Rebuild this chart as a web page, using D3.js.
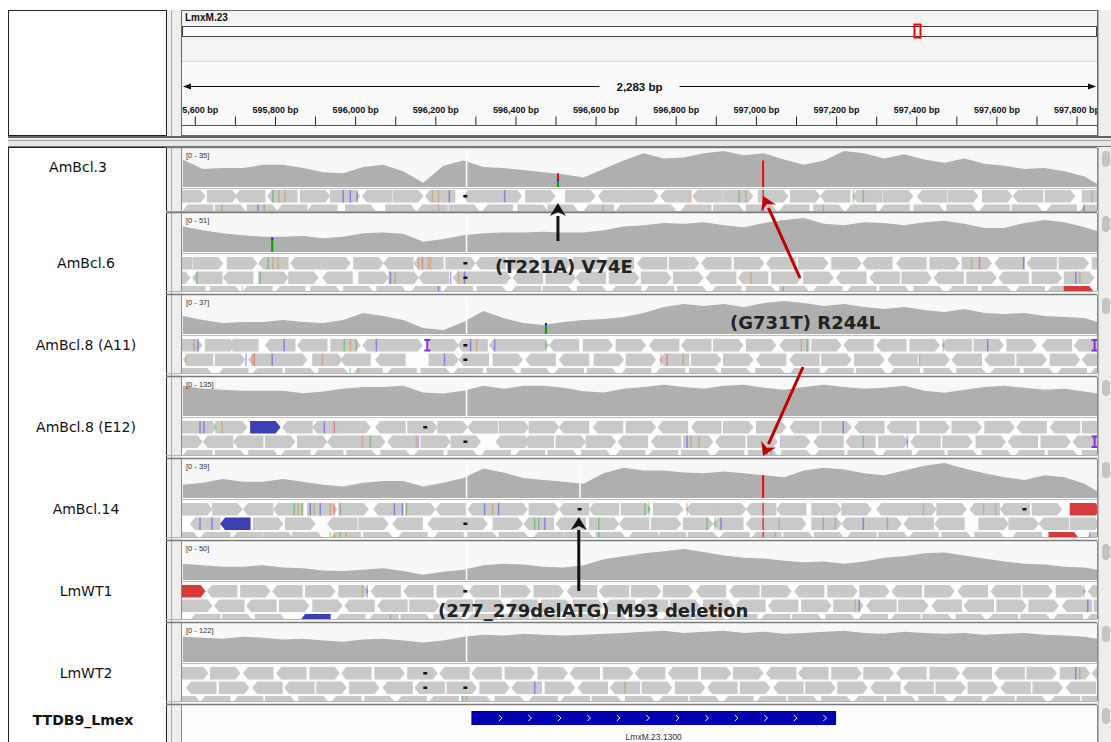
<!DOCTYPE html>
<html>
<head>
<meta charset="utf-8">
<script src="https://d3js.org/d3.v7.min.js"></script>
<style>
  body { margin: 0; background: #fff; }
</style>
</head>
<body>
<div id="igv"></div>
<script>
// ---------- data ----------
var chromName = "LmxM.23";
var chromLength = 741400;
var viewStart = 595568;
var viewEnd = 597851;
var rulerTicks = [595600, 595700, 595800, 595900, 596000, 596100, 596200, 596300, 596400, 596500, 596600,
  596700, 596800, 596900, 597000, 597100, 597200, 597300, 597400, 597500, 597600, 597700, 597800];
var labeledTicks = [595600, 595800, 596000, 596200, 596400, 596600, 596800, 597000, 597200, 597400, 597600, 597800];

var sampleNames = ["AmBcl.3", "AmBcl.6", "AmBcl.8 (A11)", "AmBcl.8 (E12)", "AmBcl.14", "LmWT1", "LmWT2"];
var dataRanges = [35, 51, 37, 135, 39, 50, 122];

// coverage sampled every 50 bp from 595,570, last value at the window end
var covPositions = d3.range(595570, 597850, 50).concat([597851]);
var covAmBcl3 = [26,17,18,18,21,21,18,14,13,19,21,15,4,20,25,19,18,16,14,12,9,17,25,32,27,28,32,34,30,32,26,21,25,34,32,27,31,26,23,27,22,20,17,18,15,10,3];
var covAmBcl6 = [35,30,26,23,21,21,22,19,21,26,27,25,14,18,23,26,27,27,28,27,27,30,35,37,40,39,41,37,34,40,44,47,39,37,41,40,37,41,43,39,33,33,40,44,41,34,29];
var covA11 = [18,14,11,12,12,14,12,11,14,21,18,14,6,4,12,23,16,11,9,12,14,15,17,21,27,30,28,30,27,31,33,31,28,30,27,25,27,24,22,25,21,20,21,18,17,16,12];
var covE12 = [110,99,96,92,92,92,83,89,99,106,106,110,86,82,92,110,99,110,110,103,90,86,99,106,114,106,99,110,114,103,96,106,114,106,99,103,110,92,85,96,106,110,103,96,99,89,82];
var covAmBcl14 = [14,16,20,17,17,20,17,14,12,16,18,18,12,16,21,31,27,21,19,17,15,26,32,29,29,27,26,28,26,24,22,29,32,30,26,24,29,34,37,31,26,22,19,24,22,15,7];
var covWT1 = [22,20,18,18,20,17,16,13,12,14,16,12,7,11,14,20,22,21,18,17,20,28,32,36,39,42,38,33,30,29,26,24,25,22,25,30,32,36,37,33,29,25,22,21,18,17,14];
var covWT2 = [83,80,77,83,80,74,77,71,67,74,77,71,64,71,83,90,87,93,90,87,90,93,96,100,103,96,100,103,96,100,93,96,100,103,96,93,100,96,93,96,90,93,96,90,87,83,77];
var coverage = [covAmBcl3, covAmBcl6, covA11, covE12, covAmBcl14, covWT1, covWT2];

// white zero-coverage columns [track, position]
var coverageGaps = [[0,596278],[1,596278],[2,596278],[3,596278],[4,596278],[4,596561],[5,596278],[6,596278]];
// allele-coloured coverage columns [track, position, [[base, depth] bottom to top]]
var alleleBars = [
  [0, 596506, [["A", 6], ["C", 2], ["T", 5]]],
  [0, 597018, [["T", 25]]],
  [1, 595793, [["A", 17], ["C", 3]]],
  [2, 596476, [["A", 9], ["C", 2]]],
  [4, 597018, [["T", 24]]]
];

// read starts, bp offset from the window start; rows top to bottom
var readLength = 76;
var readsAmBcl3 = [
  [-17,62,132,212,294,369,449,526,606,701,773,856,956,1038,1113,1193,1273,1350,1437,1517,1592,1672,1749,1834,1911,1996,2073,2153,2245],
  [2,82,162,237,312,407,507,587,665,750,837,912,1002,1082,1157,1245,1325,1407,1490,1575,1657,1740,1825,1907,1990,2070,2157,2240]
];
var readsAmBcl6 = [
  [-50,27,112,190,270,345,427,502,577,657,732,812,895,975,1052,1135,1215,1295,1377,1457,1537,1620,1697,1782,1865,1945,2027,2107,2187,2270],
  [-55,25,102,190,265,350,440,515,590,675,745,825,907,982,1065,1145,1225,1307,1387,1470,1550,1632,1715,1795,1875,1957,2037,2120,2200],
  [-17,70,150,232,320,402,485,570,650,735,820,900,985,1070,1152,1235,1320,1407,1490,1572,1657,1740,1825,1910,1995,2077,2157]
];
var readsA11 = [
  [-25,57,115,207,287,370,450,525,615,687,765,840,915,1000,1082,1165,1245,1325,1407,1490,1570,1650,1732,1815,1895,1975,2057,2145,2225],
  [2,82,165,237,325,395,482,615,690,775,857,940,1027,1107,1190,1270,1350,1432,1515,1595,1677,1760,1840,1920,2002,2082,2165,2245],
  [0,90,175,257,340,425,510,595,675,760,845,927,1010,1095,1180,1265,1345,1430,1515,1600,1682,1765,1850,1932,2015,2100,2182,2265]
];
var readsE12 = [
  [-62,12,87,250,325,395,482,562,637,712,790,865,940,1025,1107,1187,1270,1350,1432,1515,1595,1677,1757,1840,1920,2002,2082,2165,2245],
  [-25,52,127,207,287,362,432,512,595,670,782,852,932,1007,1087,1170,1250,1330,1410,1492,1575,1655,1737,1817,1897,1980,2060,2142,2222],
  [0,82,165,245,327,410,495,577,662,745,830,912,995,1080,1162,1245,1327,1412,1495,1577,1660,1745,1827,1910,1995,2077,2160,2245]
];
var readsAmBcl14 = [
  [0,75,152,227,312,390,477,557,632,712,787,865,940,1015,1095,1175,1257,1332,1407,1482,1570,1645,1732,1807,1882,1965,2040,2120,2277],
  [20,177,257,362,440,525,612,687,775,852,932,1015,1090,1170,1250,1325,1407,1482,1570,1645,1720,1800,1877,1987,2062,2137,2215],
  [-35,45,125,202,275,370,452,537,627,712,790,875,952,1032,1112,1182,1262,1340,1420,1500,1577,1657,1737,1812,1895,1977,2070,2257]
];
var readsWT1 = [
  [62,145,225,307,390,470,552,635,715,795,877,960,1040,1120,1200,1282,1365,1445,1527,1610,1690,1770,1852,1935,2017,2097,2180,2260],
  [0,80,160,242,325,405,487,567,650,730,812,895,975,1055,1137,1217,1300,1380,1462,1545,1625,1707,1787,1870,1950,2032,2112,2195,2275],
  [20,100,182,382,465,545,627,710,790,872,952,1035,1115,1197,1280,1360,1442,1522,1605,1685,1767,1847,1930,2010,2092,2172,2255]
];
var readsWT2 = [
  [-10,70,152,235,318,397,480,562,642,722,805,887,967,1050,1130,1212,1295,1375,1457,1537,1620,1700,1782,1865,1945,2027,2107,2190,2270],
  [10,92,175,255,335,417,500,580,660,742,822,905,987,1067,1147,1230,1310,1392,1475,1555,1635,1717,1800,1880,1960,2042,2122,2205],
  [-30,45,127,207,290,372,455,535,615,697,780,862,942,1022,1105,1187,1267,1350,1432,1512,1595,1675,1757,1837,1920,2002,2082,2165,2245]
];
var reads = [readsAmBcl3, readsAmBcl6, readsA11, readsE12, readsAmBcl14, readsWT1, readsWT2];
var strands = [
  [">><<>><><<>>><><<>>><<><>><>>", "<>><<>><><>><<><>><><<>><><<>"],
  ["<>><<>><<><>>><<><><>><<>><<>", "><<>><>><<><><>>><<>><<><><>>", "<><<>>><<><>><<><>><<>><><<>"],
  [">><<<><>><<><>><<>><><<><>><<", "<><>><<><><<>><>><<>><><<>><>", "><<>><<><>><><<>>><<><>><><<>"],
  ["<>><<><>><>><<><<>><><<>>><<>", "><<>><><>><<>><<><>><<><>><><", "<>><<>><><<>><<><>><><<>><>><"],
  [">><<>><><<>><<>><><<>><>><<>>", "<>><><<>><<><>><<>><><<>><><<", "><<>><><<>><>><<><<>><><>><<>"],
  ["<><>><<><>><<>><<><>><><<>><>", "><<>><<><><>><<>><<>><><<>><>", "<>><<>><<><>><><<>><<>><><<>>"],
  [">><<><>><<>><><<>><<>><><<>><", "<><<>><<>><><<>><><>><<>><><>", "><<>><><<>><<>><><<>><>><<><>"]
];
// coloured (discordant pair) reads [track, row, offset, strand, colour]
var colouredReads = [
  [1, 2, 2200, ">", "red"], [3, 0, 170, ">", "blue"], [4, 0, 2215, ">", "red"],
  [4, 1, 95, "<", "blue"], [4, 2, 2162, ">", "red"], [5, 0, -17, ">", "red"], [5, 2, 295, "<", "blue"]
];
// mismatches in reads [track, row, offset, base]
var mismatches = [
  [0,0,227,"A"],[0,0,242,"G"],[0,0,257,"G"],[0,0,402,"C"],[0,0,420,"C"],[0,0,437,"C"],[0,0,625,"G"],[0,0,640,"G"],
  [0,0,667,"C"],[0,0,805,"C"],[0,0,1270,"G"],[0,0,1390,"A"],[0,0,1407,"G"],[0,0,1450,"T"],[0,0,1675,"A"],[0,0,1700,"A"],
  [0,0,2270,"G"],[0,1,100,"G"],[0,1,190,"C"],[0,1,205,"A"],[0,1,640,"G"],[0,1,1050,"G"],[0,1,1450,"T"],[0,1,1600,"G"],[0,1,2250,"C"],
  [1,0,215,"A"],[1,0,227,"G"],[1,0,240,"G"],[1,0,590,"G"],[1,0,600,"T"],[1,0,615,"G"],[1,0,620,"G"],[1,0,1970,"G"],
  [1,0,1990,"T"],[1,0,2100,"C"],[1,1,37,"A"],[1,1,195,"A"],[1,1,520,"C"],[1,1,532,"G"],[1,1,670,"C"],[1,1,690,"G"],
  [1,1,705,"C"],[1,1,1420,"G"],[1,1,2230,"C"],[1,1,2240,"G"],[1,2,150,"G"],[1,2,640,"C"],[1,2,1500,"A"],
  [2,0,30,"G"],[2,0,40,"C"],[2,0,255,"C"],[2,0,405,"A"],[2,0,420,"G"],[2,0,435,"A"],[2,0,485,"C"],[2,0,720,"C"],
  [2,0,735,"G"],[2,0,780,"C"],[2,0,908,"A"],[2,0,1545,"G"],[2,0,1560,"A"],[2,0,1900,"A"],[2,0,2010,"C"],
  [2,1,10,"G"],[2,1,160,"C"],[2,1,175,"G"],[2,1,180,"T"],[2,1,225,"C"],[2,1,350,"G"],[2,1,655,"C"],[2,1,1195,"G"],
  [2,1,1210,"T"],[2,1,1250,"G"],[2,1,1840,"A"],[2,2,420,"A"],[2,2,440,"G"],
  [3,0,45,"C"],[3,0,55,"C"],[3,0,85,"A"],[3,0,100,"G"],[3,0,355,"C"],[3,0,380,"T"],[3,0,1650,"C"],[3,1,450,"G"],
  [3,1,470,"A"],[3,1,585,"G"],[3,1,590,"C"],[3,1,1260,"C"],[3,1,1270,"G"],[3,1,1290,"G"],[3,1,1700,"A"],[3,1,1810,"C"],
  [3,2,1460,"C"],[3,2,1470,"A"],
  [4,0,280,"A"],[4,0,290,"G"],[4,0,300,"A"],[4,0,320,"C"],[4,0,330,"G"],[4,0,345,"C"],[4,0,370,"G"],[4,0,380,"T"],
  [4,0,395,"A"],[4,0,530,"C"],[4,0,550,"C"],[4,0,560,"A"],[4,0,755,"C"],[4,0,775,"G"],[4,0,790,"C"],[4,0,1155,"A"],
  [4,0,1165,"A"],[4,0,1260,"G"],[4,0,1450,"T"],[4,0,1850,"G"],[4,0,2000,"G"],[4,0,2030,"G"],[4,1,45,"C"],[4,1,75,"C"],
  [4,1,880,"A"],[4,1,890,"A"],[4,1,905,"C"],[4,1,1040,"A"],[4,1,1310,"A"],[4,1,1330,"A"],[4,1,1345,"C"],[4,1,1450,"T"],
  [4,1,1490,"G"],[4,1,1600,"A"],[4,1,1630,"G"],[4,1,1700,"C"],[4,1,1760,"A"],[4,2,370,"A"],[4,2,380,"G"],[4,2,395,"A"],
  [4,2,410,"G"],[4,2,1040,"A"],[4,2,1450,"T"],[4,2,1480,"G"],[4,2,2265,"C"],
  [5,0,450,"G"],[5,0,462,"C"],[5,0,2250,"G"],[5,1,1680,"G"],[5,1,1690,"C"],[5,1,2260,"C"],[5,2,520,"A"],[5,2,1330,"G"],
  [6,0,2230,"C"],[6,0,2240,"G"],[6,1,880,"C"],[6,1,1105,"G"],[6,2,700,"A"],[6,2,710,"G"]
];
// deletions [track, row, offset] and insertions [track, row, offset]
var deletions = [[0,0,707],[1,0,707],[1,1,707],[2,0,707],[2,1,707],[3,0,607],[3,1,707],[4,0,992],[4,1,707],
  [4,1,992],[4,0,2102],[5,0,707],[6,0,607],[6,1,607],[6,1,707]];
var insertions = [[2,0,612],[2,0,2277],[3,1,2277]];

// gene track
var featureTrack = "TTDB9_Lmex";
var geneName = "LmxM.23.1300";
var geneStart = 596290;
var geneEnd = 597200;

// annotations
var noteTexts = ["(T221A) V74E", "(G731T) R244L", "(277_279delATG) M93 deletion"];
var notePositions = [596506, 597018, 596558];

// ---------- drawing ----------
var width = 1111;
var height = 742;
var left = 182;
var right = 1097;
var baseColor = { A: "#00a000", C: "#0000ff", G: "#d17105", T: "#ff0000" };
var readColor = { red: "#d43b3b", blue: "#3f3fb5" };

var svg = d3.select("#igv").append("svg")
  .attr("width", width)
  .attr("height", height)
  .style("display", "block");

var x = d3.scaleLinear().domain([viewStart, viewEnd]).range([left, right]);
var chromX = d3.scaleLinear().domain([0, chromLength]).range([left, right]);

function panelTop(i) {
  return i === 0 ? 148 : 213 + (i - 1) * 82;
}
function panelBottom(i) {
  return i === 0 ? 211 : panelTop(i) + 78;
}
function rowY(i, r) {
  return panelTop(i) + (i === 0 ? 42 : 44) + r * 14.5;
}

var defs = svg.append("defs");

// frame columns
svg.append("rect").attr("x", 166).attr("y", 10).attr("width", 16).attr("height", 732).attr("fill", "#eeeeee");
svg.append("rect").attr("x", 1097).attr("y", 10).attr("width", 14).attr("height", 732).attr("fill", "#eeeeee");
svg.append("line").attr("x1", 171.5).attr("x2", 171.5).attr("y1", 10).attr("y2", 742).attr("stroke", "#a8a8a8");
svg.append("line").attr("x1", 1098.5).attr("x2", 1098.5).attr("y1", 10).attr("y2", 742).attr("stroke", "#b0b0b0");

// name panels
svg.append("rect").attr("x", 8.5).attr("y", 10.5).attr("width", 158).attr("height", 125)
  .attr("fill", "#fff").attr("stroke", "#222");
svg.append("rect").attr("x", 8.5).attr("y", 147.5).attr("width", 158).attr("height", 600)
  .attr("fill", "#fff").attr("stroke", "#222");

// ---- header / ruler ----
var header = svg.append("g");
header.append("rect").attr("x", 181.5).attr("y", 10.5).attr("width", 916).attr("height", 125)
  .attr("fill", "#f4f4f4").attr("stroke", "#666");
header.append("rect").attr("x", 182).attr("y", 61).attr("width", 915).attr("height", 64).attr("fill", "#fafafa");
header.append("line").attr("x1", 182).attr("x2", 1097).attr("y1", 61.5).attr("y2", 61.5).attr("stroke", "#dadada");
header.append("text").attr("x", 185).attr("y", 21).attr("font-family", "Liberation Sans, Arial, sans-serif")
  .attr("font-size", 10).attr("font-weight", "bold").attr("fill", "#111").text(chromName);
header.append("rect").attr("x", 182.5).attr("y", 26.5).attr("width", 914).attr("height", 10)
  .attr("fill", "#fff").attr("stroke", "#444");
var viewMid = chromX((viewStart + viewEnd) / 2);
header.append("rect").attr("x", Math.round(viewMid) - 3.5).attr("y", 24.5).attr("width", 6).attr("height", 13)
  .attr("fill", "none").attr("stroke", "#ff0000").attr("stroke-width", 2);

// span arrow
var spanLabel = d3.format(",")(viewEnd - viewStart) + " bp";
header.append("line").attr("x1", left + 2).attr("x2", right - 2).attr("y1", 86.5).attr("y2", 86.5)
  .attr("stroke", "#111");
header.append("path").attr("d", "M" + (left + 1) + ",86.5l8,-3v6z").attr("fill", "#111");
header.append("path").attr("d", "M" + (right - 1) + ",86.5l-8,-3v6z").attr("fill", "#111");
header.append("rect").attr("x", (left + right) / 2 - 40).attr("y", 79).attr("width", 80).attr("height", 15)
  .attr("fill", "#fafafa");
header.append("text").attr("x", (left + right) / 2).attr("y", 90.5).attr("text-anchor", "middle")
  .attr("font-family", "Liberation Sans, Arial, sans-serif").attr("font-size", 11.5)
  .attr("font-weight", "bold").attr("fill", "#111").text(spanLabel);

// clip rect is in the ruler group's own (translated) coordinates
defs.append("clipPath").attr("id", "clipHeader").append("rect")
  .attr("x", left).attr("y", -60).attr("width", right - left).attr("height", 62);
var ruler = d3.axisTop(x)
  .tickValues(rulerTicks)
  .tickSize(9)
  .tickSizeOuter(0)
  .tickPadding(4)
  .tickFormat(function(d) {
    return labeledTicks.indexOf(d) >= 0 ? d3.format(",")(d) + " bp" : "";
  });
var rulerG = header.append("g")
  .attr("transform", "translate(0,125.5)")
  .attr("clip-path", "url(#clipHeader)")
  .call(ruler);
rulerG.selectAll("text").attr("font-family", "Liberation Sans, Arial, sans-serif")
  .attr("font-size", 9).attr("font-weight", "bold").attr("fill", "#111");
rulerG.selectAll("line").attr("stroke", "#222");
rulerG.select(".domain").attr("stroke", "#555");
header.append("rect").attr("x", 182.5).attr("y", 126).attr("width", 914).attr("height", 9).attr("fill", "#fff");
header.append("line").attr("x1", 182).attr("x2", 1097).attr("y1", 125.5).attr("y2", 125.5).attr("stroke", "#555");

// separator between header and tracks
svg.append("rect").attr("x", 8).attr("y", 136).attr("width", 1103).attr("height", 11).attr("fill", "#e6e6e6");
svg.append("line").attr("x1", 8).attr("x2", 1111).attr("y1", 137).attr("y2", 137).attr("stroke", "#666").attr("stroke-width", 2);
svg.append("line").attr("x1", 8).attr("x2", 1111).attr("y1", 140.5).attr("y2", 140.5).attr("stroke", "#9a9a9a");
svg.append("line").attr("x1", 8).attr("x2", 1111).attr("y1", 146.5).attr("y2", 146.5).attr("stroke", "#777");

// read path with a pointed end
function readPath(offset, strand, top, h) {
  var x0 = x(viewStart + offset);
  var x1 = x(viewStart + offset + readLength);
  var tip = 5;
  var m = top + h / 2;
  if (strand === "<") {
    return "M" + x1 + "," + top + "V" + (top + h) + "H" + (x0 + tip) + "L" + x0 + "," + m +
      "L" + (x0 + tip) + "," + top + "Z";
  }
  return "M" + x0 + "," + top + "H" + (x1 - tip) + "L" + x1 + "," + m + "L" + (x1 - tip) + "," +
    (top + h) + "H" + x0 + "Z";
}

// ---- alignment tracks ----
sampleNames.forEach(function(name, i) {
  var T = panelTop(i);
  var B = panelBottom(i);
  var base = T + 39;
  var g = svg.append("g");

  defs.append("clipPath").attr("id", "clipTrack" + i).append("rect")
    .attr("x", left).attr("y", T).attr("width", right - left).attr("height", B - T);

  g.append("rect").attr("x", left).attr("y", T).attr("width", right - left).attr("height", B - T)
    .attr("fill", "#fdfdfd");
  g.append("rect").attr("x", left).attr("y", T).attr("width", right - left).attr("height", base - T)
    .attr("fill", "#f8f8f8");

  var body = g.append("g").attr("clip-path", "url(#clipTrack" + i + ")");

  var y = d3.scaleLinear().domain([0, dataRanges[i]]).range([base, T + 2]);
  var area = d3.area()
    .x(function(d, k) { return x(covPositions[k]); })
    .y0(base)
    .y1(function(d) { return y(d); });
  body.append("path").datum(coverage[i]).attr("d", area).attr("fill", "#afafaf");

  coverageGaps.filter(function(d) { return d[0] === i; }).forEach(function(d) {
    body.append("rect").attr("x", x(d[1]) - 0.75).attr("y", T + 2).attr("width", 1.5)
      .attr("height", base - T - 2).attr("fill", "#ffffff");
  });

  alleleBars.filter(function(d) { return d[0] === i; }).forEach(function(d) {
    var acc = 0;
    d[2].forEach(function(p) {
      body.append("rect").attr("x", x(d[1]) - 1).attr("y", y(acc + p[1]))
        .attr("width", 2).attr("height", y(acc) - y(acc + p[1])).attr("fill", baseColor[p[0]]);
      acc += p[1];
    });
  });

  body.append("line").attr("x1", left).attr("x2", right).attr("y1", base + 1.5).attr("y2", base + 1.5)
    .attr("stroke", "#bdbdbd");

  // reads
  reads[i].forEach(function(row, r) {
    body.selectAll(null).data(row).enter().append("path")
      .attr("d", function(d, k) { return readPath(d, strands[i][r].charAt(k) || ">", rowY(i, r), 12.5); })
      .attr("fill", "#c9c9c9");
  });
  colouredReads.filter(function(d) { return d[0] === i; }).forEach(function(d) {
    body.append("path").attr("d", readPath(d[2], d[3], rowY(i, d[1]), 12.5))
      .attr("fill", readColor[d[4]]);
  });
  mismatches.filter(function(d) { return d[0] === i; }).forEach(function(d) {
    body.append("rect").attr("x", x(viewStart + d[2]) - 0.75).attr("y", rowY(i, d[1]))
      .attr("width", 1.5).attr("height", 12.5).attr("fill", baseColor[d[3]])
      .attr("opacity", d[3] === "T" && d[2] === 1450 ? 0.75 : 0.35);
  });
  deletions.filter(function(d) { return d[0] === i; }).forEach(function(d) {
    body.append("rect").attr("x", x(viewStart + d[2]) - 2).attr("y", rowY(i, d[1]) + 5)
      .attr("width", 4).attr("height", 2.5).attr("fill", "#111");
  });
  insertions.filter(function(d) { return d[0] === i; }).forEach(function(d) {
    var xi = x(viewStart + d[2]);
    var yi = rowY(i, d[1]);
    body.append("path")
      .attr("d", "M" + (xi - 3) + "," + (yi + 1) + "H" + (xi + 3) + "M" + xi + "," + (yi + 1) + "V" + (yi + 11.5) +
        "M" + (xi - 3) + "," + (yi + 11.5) + "H" + (xi + 3))
      .attr("stroke", "#8a2be2").attr("stroke-width", 2).attr("fill", "none");
  });

  g.append("text").attr("x", 186).attr("y", T + 10).attr("font-family", "Liberation Sans, Arial, sans-serif")
    .attr("font-size", 7.5).attr("fill", "#333").text("[0 - " + dataRanges[i] + "]");

  // borders
  g.append("line").attr("x1", 166).attr("x2", right).attr("y1", T - 0.5).attr("y2", T - 0.5)
    .attr("stroke", "#7a7a7a").attr("stroke-width", 1.5);
  g.append("line").attr("x1", 166).attr("x2", right).attr("y1", B + 0.5).attr("y2", B + 0.5)
    .attr("stroke", "#b4b4b4");
  g.append("line").attr("x1", left - 0.5).attr("x2", left - 0.5).attr("y1", T).attr("y2", B)
    .attr("stroke", "#8a8a8a");
  g.append("line").attr("x1", right + 0.5).attr("x2", right + 0.5).attr("y1", T).attr("y2", B)
    .attr("stroke", "#8a8a8a");
  g.append("rect").attr("x", 1102).attr("y", T + 3).attr("width", 8).attr("height", 16).attr("rx", 4)
    .attr("fill", "#c4c4c4");

  svg.append("text")
    .attr("x", i === 0 ? 78 : 86)
    .attr("y", i === 0 ? 172 : T + 55)
    .attr("text-anchor", "middle")
    .attr("font-family", "DejaVu Sans, sans-serif")
    .attr("font-size", 14)
    .attr("fill", "#111")
    .text(name);
});

// ---- gene track ----
var fT = panelTop(sampleNames.length);
svg.append("rect").attr("x", left).attr("y", fT).attr("width", right - left).attr("height", height - fT)
  .attr("fill", "#fdfdfd");
svg.append("line").attr("x1", 166).attr("x2", right).attr("y1", fT - 0.5).attr("y2", fT - 0.5)
  .attr("stroke", "#7a7a7a").attr("stroke-width", 1.5);
svg.append("line").attr("x1", left - 0.5).attr("x2", left - 0.5).attr("y1", fT).attr("y2", height).attr("stroke", "#8a8a8a");
svg.append("line").attr("x1", right + 0.5).attr("x2", right + 0.5).attr("y1", fT).attr("y2", height).attr("stroke", "#8a8a8a");
svg.append("rect").attr("x", 1102).attr("y", fT + 3).attr("width", 8).attr("height", 16).attr("rx", 4).attr("fill", "#c4c4c4");
var gx0 = x(geneStart);
var gx1 = x(geneEnd);
svg.append("rect").attr("x", gx0).attr("y", fT + 6).attr("width", gx1 - gx0).attr("height", 14).attr("fill", "#0000b2");
svg.selectAll(null).data(d3.range(gx0 + 29, gx1 - 5, 29.5)).enter().append("path")
  .attr("d", function(d) { return "M" + (d - 1.5) + "," + (fT + 10) + "l3,3l-3,3"; })
  .attr("stroke", "#fff").attr("stroke-width", 1).attr("fill", "none");
svg.append("text").attr("x", (gx0 + gx1) / 2).attr("y", fT + 34.5).attr("text-anchor", "middle")
  .attr("font-family", "Liberation Sans, Arial, sans-serif").attr("font-size", 8.5).attr("fill", "#333")
  .text(geneName);
svg.append("text").attr("x", 83).attr("y", fT + 20).attr("text-anchor", "middle")
  .attr("font-family", "DejaVu Sans, sans-serif").attr("font-size", 14).attr("font-weight", "bold")
  .attr("fill", "#111").text(featureTrack);

// ---- annotations ----
function arrow(x0, y0, x1, y1, colour) {
  var a = Math.atan2(y1 - y0, x1 - x0);
  var len = 13;
  var hw = 8;
  var bx = x1 - len * Math.cos(a);
  var by = y1 - len * Math.sin(a);
  svg.append("line").attr("x1", x0).attr("y1", y0).attr("x2", bx).attr("y2", by)
    .attr("stroke", colour).attr("stroke-width", 3);
  svg.append("path")
    .attr("d", "M" + x1 + "," + y1 +
      "L" + (bx + hw * Math.sin(a)) + "," + (by - hw * Math.cos(a)) +
      "L" + (bx + 4 * Math.cos(a)) + "," + (by + 4 * Math.sin(a)) +
      "L" + (bx - hw * Math.sin(a)) + "," + (by + hw * Math.cos(a)) + "Z")
    .attr("fill", colour);
}
arrow(x(notePositions[0]), 241, x(notePositions[0]), 203, "#111");
arrow(800, 278, x(notePositions[1]), 196, "#c00000");
arrow(803, 367, x(notePositions[1]), 456, "#c00000");
arrow(x(notePositions[2]), 591, x(notePositions[2]), 517, "#111");

var notePlaces = [[495, 273], [730, 329], [438, 617]];
noteTexts.forEach(function(t, k) {
  svg.append("text").attr("x", notePlaces[k][0]).attr("y", notePlaces[k][1])
    .attr("font-family", "DejaVu Sans, sans-serif").attr("font-size", 18).attr("font-weight", "bold")
    .attr("fill", "#222").text(t);
});
</script>
</body>
</html>
